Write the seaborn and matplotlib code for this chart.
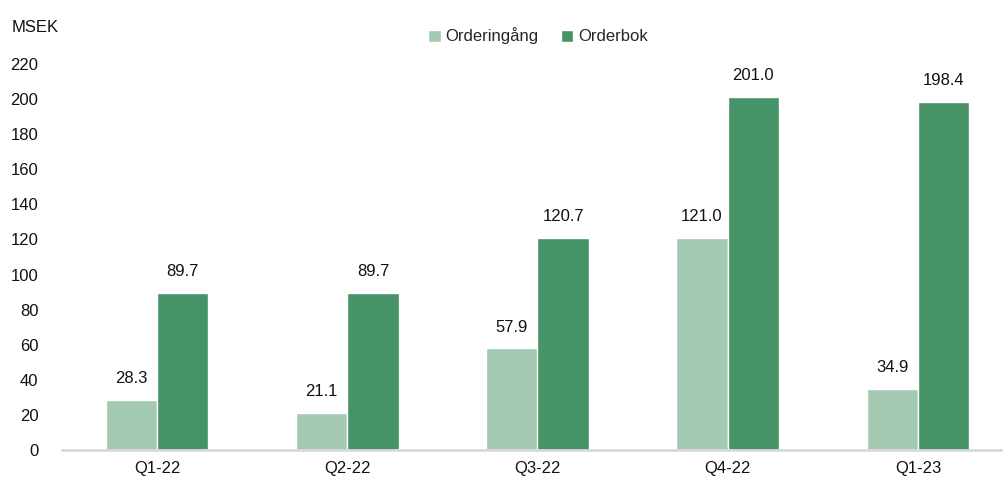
import matplotlib
matplotlib.use("Agg")
import matplotlib.pyplot as plt
import pandas as pd
import seaborn as sns

quarters = ["Q1-22", "Q2-22", "Q3-22", "Q4-22", "Q1-23"]
orderingang = [28.3, 21.1, 57.9, 121.0, 34.9]
orderbok = [89.7, 89.7, 120.7, 201.0, 198.4]
series_names = ["Orderingång", "Orderbok"]
colors = ["#A3C9B3", "#459366"]

df = pd.DataFrame({
    "quarter": quarters * 2,
    "series": [series_names[0]] * len(quarters) + [series_names[1]] * len(quarters),
    "value": orderingang + orderbok,
})

sns.set_theme(style="white")
plt.rcParams["font.family"] = ["Liberation Sans", "DejaVu Sans"]

fig = plt.figure(figsize=(10.04, 4.83), dpi=100)
ax = fig.add_axes([62 / 1004, 1 - 450 / 483, (1013 - 62) / 1004, (450 - 64) / 483])

sns.barplot(data=df, x="quarter", y="value", hue="series", palette=colors,
            width=0.54, dodge=True, saturation=1, ax=ax, legend=True)

for container in ax.containers:
    ax.bar_label(container, fmt="%.1f", padding=10, fontsize=12, color="#111111")

ax.set_ylim(0, 220)
ax.set_xlim(-0.5, 4.5)
ax.set_yticks(range(0, 221, 20))
ax.set_xlabel("")
ax.set_ylabel("")
ax.tick_params(axis="both", length=0, labelsize=12, colors="#111111")
ax.tick_params(axis="y", pad=17)
ax.tick_params(axis="x", pad=8)
for s in ["top", "right", "left"]:
    ax.spines[s].set_visible(False)
ax.spines["bottom"].set_color("#D9D9D9")
ax.spines["bottom"].set_linewidth(2)

leg = ax.legend(loc="center", bbox_to_anchor=(538 / 1004, 1 - 36 / 483),
                bbox_transform=fig.transFigure, ncol=2, frameon=False,
                fontsize=12, handlelength=0.75, handleheight=0.75,
                handletextpad=0.3, columnspacing=1.3)

fig.text(12 / 1004, 1 - 27 / 483, "MSEK", fontsize=12, color="#111111", va="center")

fig.savefig("out.png", dpi=100)
